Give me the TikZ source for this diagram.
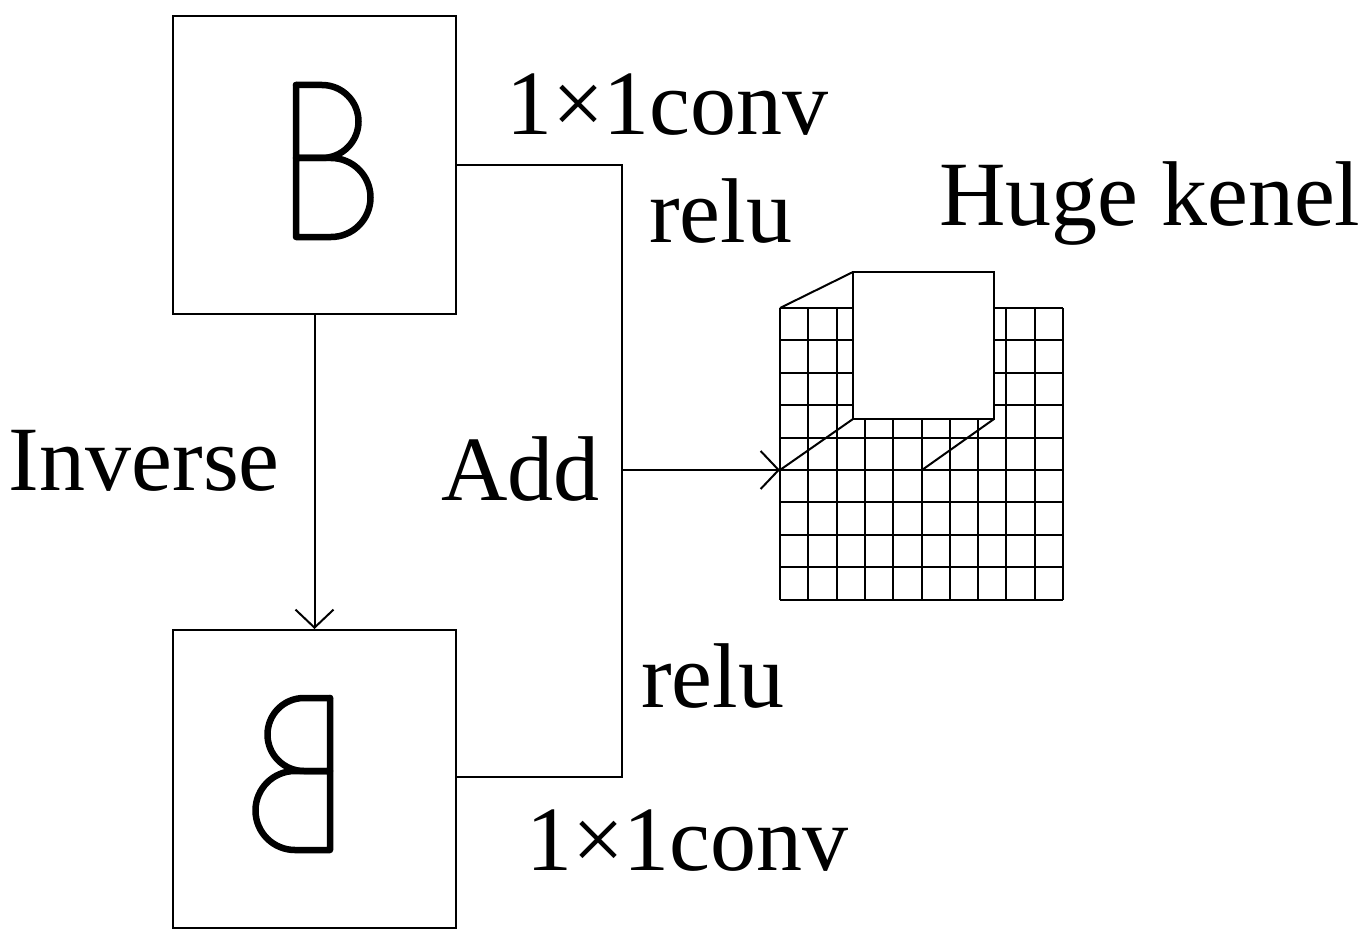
\documentclass[tikz,border=0pt]{standalone}
\usepackage{fontspec}
\setmainfont{Liberation Serif}
\usetikzlibrary{arrows.meta}
\begin{document}
\begin{tikzpicture}[x=1pt,y=-1pt,line width=2pt,
  lbl/.style={anchor=base west,inner sep=0pt,font=\fontsize{92}{92}\selectfont},
  box/.style={draw,minimum width=283pt,minimum height=298pt,anchor=north west,inner sep=0pt},
  glyph/.style={line width=6.5pt,line cap=round,line join=round},
  vee/.style={-{Straight Barb[length=18pt,width=38pt,line width=2pt]}}]
\useasboundingbox (0,0) rectangle (1367,944);
\node[box] (top) at (172,15) {};
\node[box] (bot) at (172,629) {};
% B glyphs
\draw[glyph] (296,85) -- (296,237) -- (331,237) arc[start angle=90,end angle=-90,radius=39.5] -- (296,158);
\draw[glyph] (296,85) -- (322,85) arc[start angle=-90,end angle=90,radius=36.5] -- (296,158);
\begin{scope}[xshift=626pt,yshift=-613pt,x=-1pt]
\draw[glyph] (296,85) -- (296,237) -- (331,237) arc[start angle=90,end angle=-90,radius=39.5] -- (296,158);
\draw[glyph] (296,85) -- (322,85) arc[start angle=-90,end angle=90,radius=36.5] -- (296,158);
\end{scope}
% connectors
\coordinate (j1) at (622,165);
\coordinate (j2) at (622,777);
\coordinate (jm) at (622,470);
\coordinate (g) at (780,470);
\draw (top.east |- j1) -- (j1) -- (j2) -- (bot.east |- j2);
\draw[vee] (top.south) -- (bot.north);
% grid
\foreach \i in {0,...,10} \draw (780+28.3*\i,308) -- (780+28.3*\i,600);
\foreach \j in {0,...,9} \draw (780,308+32.4*\j) -- (1063,308+32.4*\j);
\draw[fill=white] (853,272) rectangle (994,419);
\draw (780,308) -- (853,272);
\draw (853,419) -- (780,470);
\draw (994,419) -- (922,470);
\draw[vee] (jm) -- (g);
% labels
\node[lbl] (t1) at (505,135) {1×1conv};
\node[lbl] (t2) at (648,242) {relu};
\node[lbl] (t3) at (938,225) {Huge kenel};
\node[lbl] (t4) at (8,490) {Inverse};
\node[lbl] (t5) at (440,500) {Add};
\node[lbl] (t6) at (640,707) {relu};
\node[lbl] (t7) at (525,870) {1×1conv};
\end{tikzpicture}
\end{document}
